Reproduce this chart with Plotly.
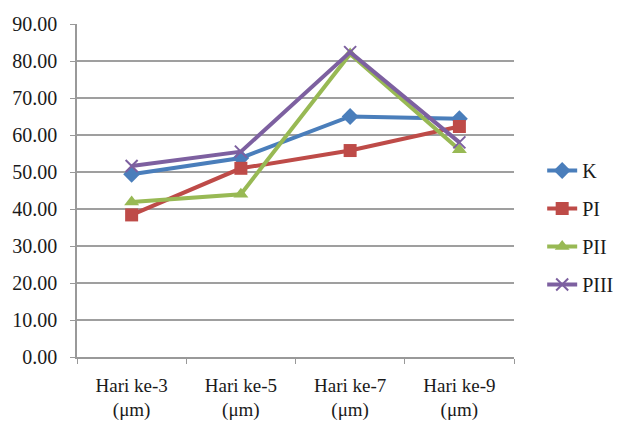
import plotly.graph_objects as go

categories = ["Hari ke-3<br>(μm)", "Hari ke-5<br>(μm)", "Hari ke-7<br>(μm)", "Hari ke-9<br>(μm)"]
K = [49.4, 53.8, 65.0, 64.4]
PI = [38.4, 51.0, 55.8, 62.3]
PII = [41.9, 44.0, 81.9, 56.0]
PIII = [51.6, 55.5, 82.4, 58.0]
y_ticks = [0, 10, 20, 30, 40, 50, 60, 70, 80, 90]
y_tick_labels = [f"{v:.2f}" for v in y_ticks]

series = [
    ("K", K, "#4A7EBB", "diamond", 13),
    ("PI", PI, "#BE4B48", "square", 13),
    ("PII", PII, "#98B954", "triangle-up", 13),
    ("PIII", PIII, "#7D60A0", "x-thin", 12),
]

fig = go.Figure()
for name, vals, color, sym, size in series:
    fig.add_trace(go.Scatter(
        x=categories, y=vals, name=name, mode="lines+markers",
        legendgroup=name,
        line=dict(color=color, width=4),
        marker=dict(symbol=sym, size=size, color=color,
                    line=dict(color=color, width=2 if sym == "x-thin" else 0)),
    ))

fam = "Liberation Serif"
font = dict(family=fam, size=20, color="#1a1a1a")
xfont = dict(family=fam, size=19, color="#1a1a1a")
fig.update_layout(
    width=614, height=413,
    margin=dict(l=69, r=108, t=16, b=64),
    paper_bgcolor="white", plot_bgcolor="white",
    font=font,
    showlegend=True,
    legend=dict(x=0.87, y=0.4685, xanchor="left", yanchor="middle",
                xref="container", yref="container",
                font=font,
                traceorder="grouped", tracegroupgap=9, itemwidth=30,
                bgcolor="rgba(0,0,0,0)"),
    xaxis=dict(type="category", range=[-0.5, 3.5], showgrid=False,
               showline=True, linecolor="#999999", linewidth=1.5,
               ticks="outside", tickson="boundaries", ticklen=5, tickcolor="#999999",
               tickfont=xfont, ticklabelstandoff=10, automargin=False),
    yaxis=dict(range=[0, 90], tickvals=y_ticks, ticktext=y_tick_labels,
               showgrid=True, gridcolor="#9f9f9f", gridwidth=1.5,
               showline=True, linecolor="#999999", linewidth=1.5,
               ticks="outside", ticklen=5, tickcolor="#999999",
               zeroline=False, tickfont=font, ticklabelstandoff=9, automargin=False),
)

fig.write_html("out.html")
